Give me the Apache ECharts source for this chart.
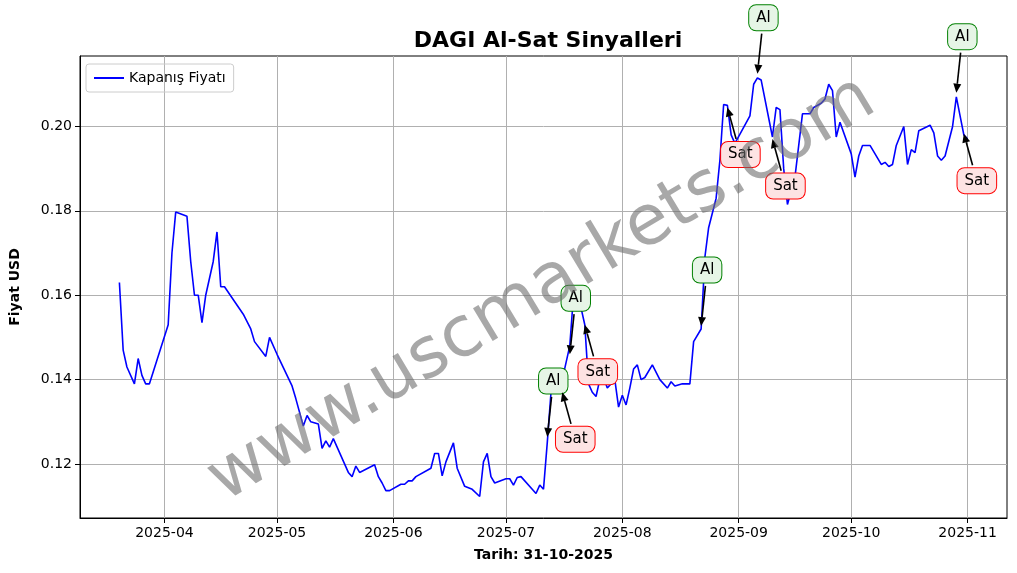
<!DOCTYPE html>
<html><head><meta charset="utf-8">
<script src="https://cdn.jsdelivr.net/npm/echarts@6/dist/echarts.min.js"></script>
<style>html,body{margin:0;padding:0;background:#fff}#c{width:1017px;height:573px}</style>
</head><body><div id="c"></div>
<script>
// days since 2025-03-20
const dayOffsets=[0,1,2,4,5,6,7,8,13,14,15,18,19,20,21,22,23,25,26,27,28,33,35,36,39,40,42,46,47,49,50,51,53,54,55,56,57,61,62,63,64,68,69,70,71,72,75,76,77,78,79,83,84,85,86,87,89,90,92,94,96,97,98,99,100,103,104,105,106,107,110,111,112,113,114,115,116,117,118,120,121,122,123,124,125,126,127,128,129,130,132,133,134,135,136,137,138,139,140,142,144,146,147,148,150,152,153,155,156,157,159,160,161,162,163,164,168,169,170,171,174,175,176,177,178,180,182,184,185,187,188,189,190,191,192,195,196,197,198,200,203,204,205,206,207,209,210,211,212,213,216,217,218,219,220,222,223,225,226];
const closePrices=[0.163,0.147,0.143,0.139,0.145,0.141,0.139,0.139,0.153,0.170,0.1797,0.1787,0.168,0.160,0.160,0.1535,0.160,0.168,0.175,0.162,0.162,0.1555,0.152,0.149,0.1455,0.150,0.146,0.1385,0.1355,0.129,0.1315,0.130,0.1295,0.1237,0.1255,0.124,0.126,0.118,0.117,0.1195,0.118,0.1198,0.117,0.1155,0.1137,0.1137,0.1152,0.1152,0.116,0.116,0.117,0.119,0.1225,0.1225,0.1172,0.1205,0.125,0.119,0.1147,0.114,0.1123,0.1205,0.1225,0.117,0.1155,0.1165,0.1165,0.115,0.1168,0.117,0.114,0.113,0.115,0.114,0.125,0.137,0.139,0.139,0.140,0.148,0.160,0.159,0.157,0.153,0.139,0.137,0.136,0.140,0.1405,0.138,0.140,0.1335,0.1363,0.134,0.138,0.1425,0.1435,0.140,0.1405,0.1435,0.140,0.138,0.1395,0.1385,0.139,0.139,0.149,0.152,0.169,0.176,0.183,0.192,0.2052,0.205,0.198,0.196,0.2025,0.210,0.2115,0.211,0.1975,0.2045,0.204,0.190,0.1815,0.188,0.203,0.203,0.2045,0.2055,0.2065,0.210,0.2085,0.1975,0.201,0.1935,0.188,0.193,0.1955,0.1955,0.191,0.1915,0.1905,0.191,0.1955,0.200,0.191,0.1945,0.1938,0.199,0.2003,0.1985,0.193,0.192,0.193,0.200,0.207,0.198,0.197];
const signalTypes=['Al','Sat','Al','Sat','Al','Sat','Al','Sat','Al','Sat'];
const signalDays=[114,118,120,124,155,162,170,174,223,225];
const signalPrices=[0.1264,0.137,0.146,0.153,0.1527,0.2045,0.2125,0.197,0.208,0.1983];
const yTicks=[0.12,0.14,0.16,0.18,0.20];
const xTickMonths=['2025-04-01','2025-05-01','2025-06-01','2025-07-01','2025-08-01','2025-09-01','2025-10-01','2025-11-01'];

const base=Date.UTC(2025,2,20);
const DAY=864e5;
const lineData=dayOffsets.map((d,i)=>[base+d*DAY,closePrices[i]]);
const sigData=signalDays.map((d,i)=>[base+d*DAY,signalPrices[i],signalTypes[i]==='Al'?1:0]);
const xTickVals=xTickMonths.map(s=>Date.parse(s+'T00:00:00Z'));

const chart=echarts.init(document.getElementById('c'));
chart.setOption({
  animation:false,
  title:{text:'DAGI Al-Sat Sinyalleri',left:543,top:25,textAlign:'center',textStyle:{fontFamily:'DejaVu Sans',fontWeight:'bold',fontSize:22,color:'#000'}},
  legend:{left:86,top:64,orient:'vertical',data:[{name:'Kapanış Fiyatı',icon:'path://M0,0 L30,0 L30,2 L0,2 Z'}],itemWidth:30,itemHeight:2,
    borderColor:'#ccc',borderWidth:1,borderRadius:3,padding:[7,8,7,8],textStyle:{fontFamily:'DejaVu Sans',fontSize:14,color:'#000'}},
  grid:{left:78,right:10,top:56,bottom:55,show:true,borderColor:'#000',borderWidth:1},
  xAxis:{type:'value',min:Date.UTC(2025,2,9,12),max:Date.UTC(2025,10,11,12),
    name:'Tarih: 31-10-2025',nameLocation:'middle',nameGap:30,nameTextStyle:{fontFamily:'DejaVu Sans',fontWeight:'bold',fontSize:14,color:'#000'},
    axisLine:{lineStyle:{color:'#000'}},axisTick:{show:true,length:5,lineStyle:{color:'#000'},customValues:xTickVals},
    axisLabel:{fontFamily:'DejaVu Sans',fontSize:14,color:'#000',margin:8,customValues:xTickVals,
      formatter:v=>{const d=new Date(v);return d.getUTCFullYear()+'-'+String(d.getUTCMonth()+1).padStart(2,'0');}},
    splitLine:{show:true,lineStyle:{color:'#b0b0b0',width:1}}},
  yAxis:{type:'value',min:0.1072,max:0.2167,
    name:'Fiyat USD',nameLocation:'middle',nameGap:58,nameTextStyle:{fontFamily:'DejaVu Sans',fontWeight:'bold',fontSize:14,color:'#000'},
    axisLine:{show:true,lineStyle:{color:'#000'}},axisTick:{show:true,length:5,lineStyle:{color:'#000'},customValues:yTicks},
    axisLabel:{fontFamily:'DejaVu Sans',fontSize:14,color:'#000',customValues:yTicks,formatter:v=>v.toFixed(2)},
    splitLine:{show:true,lineStyle:{color:'#b0b0b0',width:1}}},
  graphic:[{type:'text',x:542,y:290,rotation:Math.PI*31/180,
    style:{text:'www.uscmarkets.com',font:'70px "DejaVu Sans"',fill:'rgba(110,110,110,0.6)',align:'center',verticalAlign:'middle'},z:100}],
  series:[
    {name:'Kapanış Fiyatı',type:'line',data:lineData,symbol:'none',lineStyle:{color:'#0000ff',width:1.6},itemStyle:{color:'#0000ff'}},
    {type:'custom',data:sigData,z:10,renderItem:(params,api)=>{
      const p=api.coord([api.value(0),api.value(1)]);
      const isAl=api.value(2)===1;
      const bx=p[0]+(isAl?6:13), by=p[1]+(isAl?-56:47);
      const dx=p[0]-bx, dy=p[1]-by, L=Math.hypot(dx,dy), ux=dx/L, uy=dy/L;
      const sx=bx+ux*16, sy=by+uy*16;
      const hx=p[0]-ux*9, hy=p[1]-uy*9;
      const nx=-uy, ny=ux;
      return {type:'group',children:[
        {type:'line',shape:{x1:sx,y1:sy,x2:hx,y2:hy},style:{stroke:'#000',lineWidth:1.6}},
        {type:'polygon',shape:{points:[[p[0],p[1]],[hx+nx*4,hy+ny*4],[hx-nx*4,hy-ny*4]]},style:{fill:'#000'}},
        {type:'text',x:bx,y:by,style:{text:isAl?'Al':'Sat',font:'15px "DejaVu Sans"',fill:'#000',align:'center',verticalAlign:'middle',
          backgroundColor:isAl?'#e6f5e6':'#fde3e3',borderColor:isAl?'#008000':'#ff0000',borderWidth:1,borderRadius:7,padding:[5,7,5,7]}}
      ]};
    }}
  ]
});
</script></body></html>
